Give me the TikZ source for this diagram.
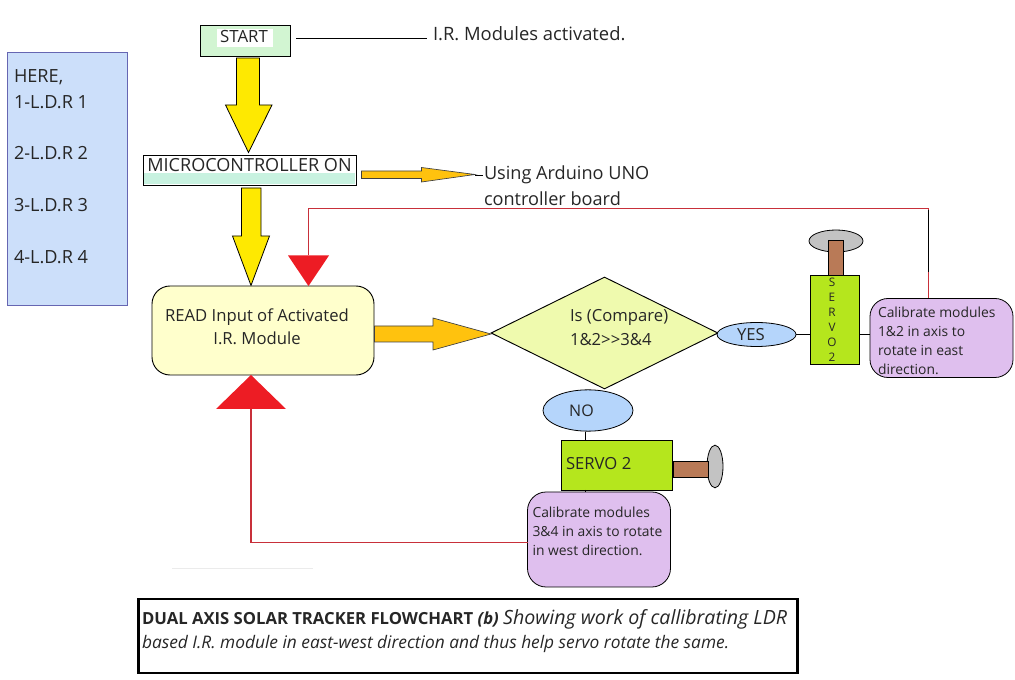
\documentclass[tikz,border=0pt]{standalone}
\usepackage{fontspec}
\setmainfont{Open Sans}
\usetikzlibrary{shapes.geometric,calc}
\definecolor{cblue}{HTML}{CCDFFA}
\definecolor{cyell}{HTML}{FFFFCC}
\definecolor{cdia}{HTML}{EFFAAE}
\definecolor{cell}{HTML}{B5D5FB}
\definecolor{cservo}{HTML}{B5E61D}
\definecolor{cbrown}{HTML}{B97A57}
\definecolor{cgrey}{HTML}{C3C3C3}
\definecolor{cpurp}{HTML}{DFBFEE}
\definecolor{cred}{HTML}{ED1C24}
\definecolor{cline}{HTML}{C8303A}
\definecolor{corange}{HTML}{FFC20E}
\definecolor{cstart}{HTML}{D2F5D2}
\definecolor{cteal}{HTML}{C8F2E0}
\tikzset{
 txt/.style={inner sep=0pt,outer sep=0pt,anchor=west,font=\fontsize{13.8}{18}\selectfont,text=black!85},
 boxx/.style={draw=black,line width=0.7pt,inner sep=0pt,outer sep=0pt,minimum width=#1},
 pbox/.style={draw=black,line width=0.6pt,fill=cpurp,rounded corners=13.5pt,inner sep=0pt},
 ell/.style={draw=black,line width=0.6pt,ellipse,inner sep=0pt,fill=cell},
 ybig/.style={draw=black,line width=0.6pt,fill=yellow!92!orange},
 obig/.style={draw=black!75,line width=0.5pt,fill=corange},
 tri/.style={fill=cred},
 conn/.style={draw=black,line width=0.7pt},
 red link/.style={draw=cline,line width=0.8pt},
 shaft/.style={draw=black,line width=0.7pt,fill=cbrown},
 disc/.style={draw=black,line width=0.6pt,fill=cgrey,ellipse,inner sep=0pt},
}
\begin{document}
\begin{tikzpicture}[x=0.75pt,y=-0.75pt]
\useasboundingbox (0,0) rectangle (1015,680);
% left panel
\node[draw=black!50!blue!60,line width=0.6pt,fill=cblue,minimum width=90pt,minimum height=189.75pt,inner sep=0pt] (legend) at (67.5,178.5) {};
\node[txt,anchor=north west,align=left,font=\fontsize{13.6}{19.35}\selectfont] (legendtxt) at (14,69.5) {HERE,\\1-L.D.R 1\\[19.35pt]2-L.D.R 2\\[19.35pt]3-L.D.R 3\\[19.35pt]4-L.D.R 4};
% start
\node[boxx=67.5pt,fill=cstart,minimum height=23.25pt] (start) at (245,40.5) {};
\fill[white] (217,29) rectangle (273,47);
\node[txt,font=\fontsize{12.6}{14}\selectfont,anchor=center] (starttxt) at (244,37) {START};
\coordinate (irend) at (427,38);
\coordinate (irstart) at (296,38);
\draw[conn] (irstart) -- (irend);
\node[txt] (irtxt) at (433,33.5) {I.R. Modules activated.};
% microcontroller
\node[boxx=159.75pt,fill=white,minimum height=22.5pt] (micro) at (249.5,170) {};
\fill[cteal] (143.6,173.5) rectangle (355.4,184.4);
\node[txt,font=\fontsize{13.55}{14}\selectfont,anchor=center] (microtxt) at (249.5,165) {MICROCONTROLLER ON};
\node[txt,anchor=north west,align=left,font=\fontsize{13.6}{19.5}\selectfont] (usingtxt) at (484,166) {Using Arduino UNO\\controller board};
% block arrows
\draw[ybig] (236.5,58) -- (259.5,58) -- (259.5,105) -- (272,105) -- (248.5,152.5) -- (225.5,105) -- (236.5,105) -- cycle;
\draw[ybig] (241.5,188) -- (261,188) -- (261,236) -- (269.5,236) -- (251,285.5) -- (232.5,236) -- (241.5,236) -- cycle;
\draw[obig] (361.5,171) -- (421.5,171) -- (421.5,167.5) -- (475,174.5) -- (421.5,182) -- (421.5,178.5) -- (361.5,178.5) -- cycle;
\coordinate (smalltip) at (475,175);
\coordinate (usingpt) at (483,175);
\draw[conn] (smalltip) -- (usingpt);
% read
\node[boxx=166.5pt,fill=cyell,minimum height=66.75pt,rounded corners=13.5pt] (read) at (263,330.5) {};
\node[txt,align=center,anchor=center,font=\fontsize{12.5}{17.5}\selectfont] (readtxt) at (257,326.5) {READ Input of Activated\\I.R. Module};
\draw[obig] (374.5,326) -- (433,326) -- (433,318) -- (491,334) -- (433,350) -- (433,342) -- (374.5,342) -- cycle;
% diamond
\node[diamond,draw=black,line width=0.7pt,fill=cdia,minimum width=170.25pt,minimum height=84pt,inner sep=0pt,aspect=2] (dia) at (604.5,333) {};
\node[txt,align=left,anchor=west,font=\fontsize{12.5}{17.5}\selectfont] (diatxt) at (570,327.5) {Is (Compare)\\1\&2{>}{>}3\&4};
% yes
\node[ell,minimum width=59.25pt,minimum height=18pt] (yes) at (756.5,334.5) {};
\node[txt,anchor=center,font=\fontsize{12.5}{14}\selectfont] (yestxt) at (751,335) {YES};
% servo top
\node[disc,minimum width=40.5pt,minimum height=16.5pt] (disca) at (836,241) {};
\node[shaft,minimum width=11.25pt,minimum height=26.25pt,inner sep=0pt] (shafta) at (836,257.5) {};
\node[boxx=36.75pt,fill=cservo,minimum height=66.75pt] (servoa) at (834.5,320) {};
\node[txt,anchor=north,align=center,font=\fontsize{8.8}{11.25}\selectfont] (servoatxt) at (832,278) {S\\E\\R\\V\\O\\2};
% purple right
\node[pbox,minimum width=107.25pt,minimum height=59.25pt] (calr) at (941.5,338) {};
\node[txt,anchor=north west,align=left,font=\fontsize{10.4}{14.25}\selectfont] (calrtxt) at (878,307) {Calibrate modules\\1\&2 in axis to\\rotate in east\\direction.};
\draw[conn] (yes.east) -- (yes.east -| servoa.west);
\draw[conn] (servoa.east |- yes.east) -- (calr.west |- yes.east);
% no
\node[ell,minimum width=67.5pt,minimum height=31pt] (no) at (588,410.5) {};
\node[txt,anchor=center,font=\fontsize{12}{14}\selectfont] (notxt) at (581.5,411) {NO};
\node[boxx=83.25pt,fill=cservo,minimum height=37.5pt] (servob) at (616.5,465) {};
\node[txt,font=\fontsize{12.5}{14}\selectfont] (servobtxt) at (566,464) {SERVO 2};
\node[disc,minimum width=12pt,minimum height=32pt] (discb) at (715,466.5) {};
\node[shaft,minimum width=26.25pt,minimum height=12pt,inner sep=0pt] (shaftb) at (690.5,469) {};
\node[pbox,minimum width=107.25pt,minimum height=71.25pt,rounded corners=14pt] (call) at (599,539.5) {};
\node[txt,anchor=north west,align=left,font=\fontsize{10.4}{14.25}\selectfont] (calltxt) at (532.5,507) {Calibrate modules\\3\&4 in axis to rotate\\in west direction.};
\draw[conn] (no.south -| 585,0) -- (servob.north -| 585,0);
\draw[conn] (servob.south -| 585,0) -- (call.north -| 585,0);
% red triangles and feedback
\coordinate (tridown) at (308.5,255.5);
\coordinate (triup) at (251,409);
\fill[tri] (288,255.5) -- (329,255.5) -- (308.5,286) -- cycle;
\fill[tri] (216,409) -- (286,409) -- (251,375) -- cycle;
\coordinate (corner) at (928.5,208.5);
\coordinate (leftjoin) at (528,542.5);
\draw[red link] (tridown) |- (corner) -- (corner |- calr.north);
\draw[draw=black,line width=0.5pt] (928.5,210) -- (928.5,272);
\draw[red link] (triup) |- (leftjoin);
% faint line
\draw[black!8,line width=0.7pt] (172,568) -- (313,568);
% title
\node[draw=black,line width=2.2pt,minimum width=494pt,minimum height=55.5pt,inner sep=0pt] (title) at (468,636) {};
\node[txt,anchor=north west,align=left,font=\fontsize{13}{18}\selectfont] (titletxt) at (142,610) {\fontsize{12.5}{18}\selectfont\textbf{DUAL AXIS SOLAR TRACKER FLOWCHART} \textbf{\textit{(b)}} \fontsize{14.7}{18}\selectfont\textit{Showing work of callibrating LDR}\\\textit{based I.R. module in east-west direction and thus help servo rotate the same.}};
\end{tikzpicture}
\end{document}
